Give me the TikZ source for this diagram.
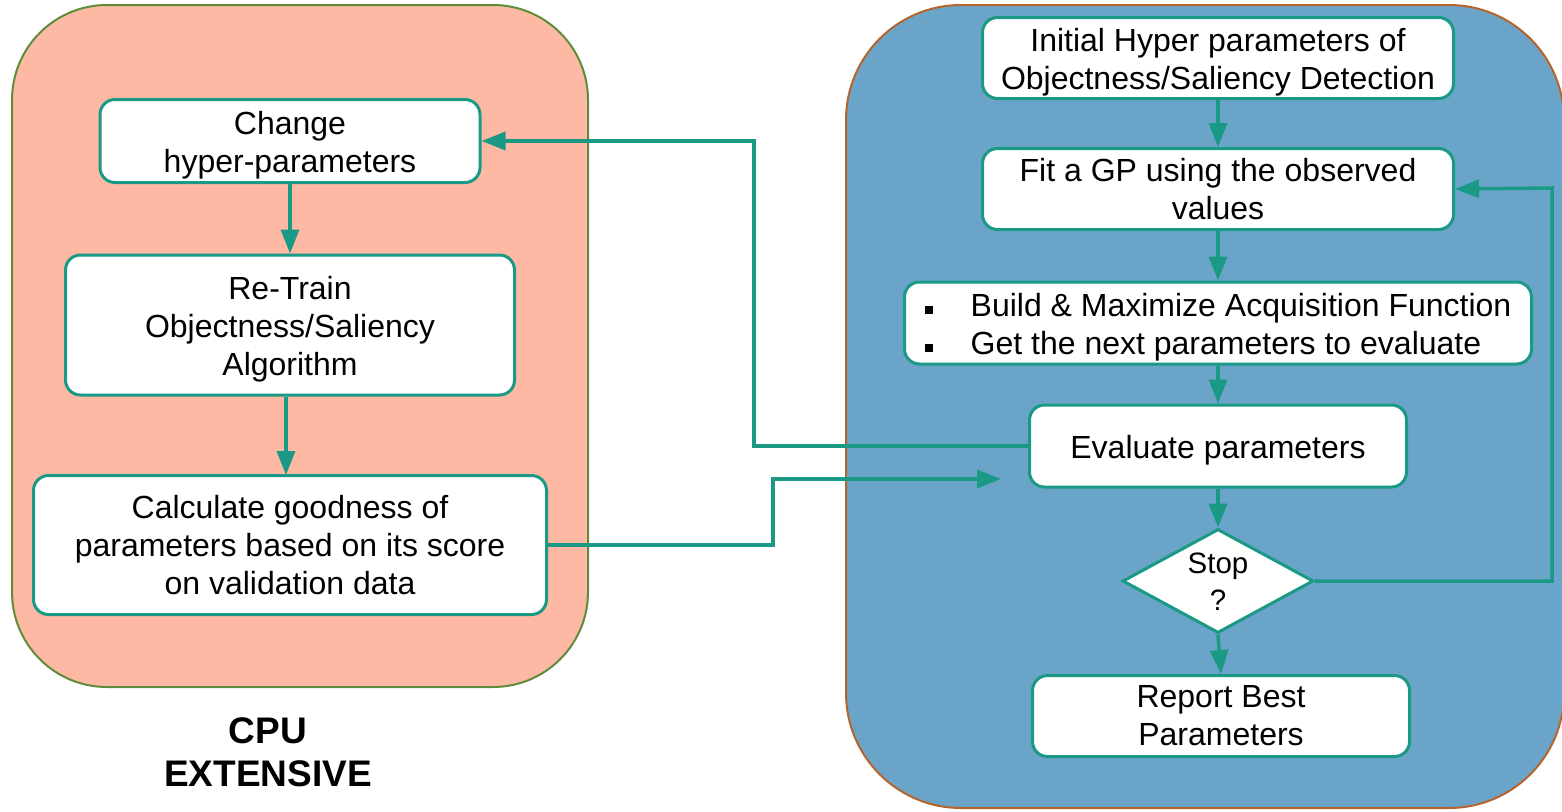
\documentclass[tikz,border=0pt]{standalone}
\usepackage{fontspec}
\setmainfont{Liberation Sans}
\usetikzlibrary{shapes.geometric,arrows.meta}
\definecolor{teal1}{HTML}{1A9985}
\definecolor{pinkfill}{HTML}{FDB9A3}
\definecolor{greenline}{HTML}{5E8C3A}
\definecolor{bluefill}{HTML}{6BA4C9}
\definecolor{brownline}{HTML}{B5652B}
\newcommand{\lowstrut}{\rule{0pt}{31pt}}
\begin{document}
\begin{tikzpicture}[x=1pt,y=-1pt,
  box/.style={draw=teal1, line width=3pt, fill=white, rounded corners=15pt, align=center, inner sep=0pt,
    font=\fontsize{32}{38}\selectfont},
  conn/.style={draw=teal1, line width=3.5pt, -{Triangle[length=24pt,width=18pt]}},
  plain/.style={draw=teal1, line width=3.5pt}
]
\useasboundingbox (0,0) rectangle (1562,811);
% containers
\draw[fill=pinkfill, draw=greenline, line width=2pt, rounded corners=95pt] (12,5) rectangle (588,687);
\draw[fill=bluefill, draw=brownline, line width=2pt, rounded corners=115pt] (846,5) rectangle (1564,808);

% left nodes
\node[box, minimum width=380pt, minimum height=83pt] (change) at (290,141) {\lowstrut Change\\hyper-parameters};
\node[box, minimum width=449pt, minimum height=140pt] (retrain) at (290,325) {\lowstrut Re-Train\\Objectness/Saliency\\Algorithm};
\node[box, minimum width=513pt, minimum height=139pt] (calc) at (290,545) {Calculate goodness of\\parameters based on its score\\on validation data};

% right nodes
\node[box, minimum width=471pt, minimum height=81pt] (init) at (1218,58) {\lowstrut Initial Hyper parameters of\\Objectness/Saliency Detection};
\node[box, minimum width=471pt, minimum height=81pt] (fit) at (1218,189) {Fit a GP using the observed\\values};
\node[box, minimum width=627pt, minimum height=82pt, align=left] (build) at (1218,323)
  {\lowstrut\makebox[46pt][l]{\rule[2pt]{8pt}{8pt}}Build \& Maximize Acquisition Function\\
   \makebox[46pt][l]{\rule[2pt]{8pt}{8pt}}Get the next parameters to evaluate};
\node[box, minimum width=377pt, minimum height=82pt] (eval) at (1218,446) {\lowstrut Evaluate parameters};
\node[diamond, draw=teal1, line width=3pt, fill=white, inner sep=0pt, minimum width=191pt, minimum height=104pt] (stop) at (1218,581) {};
\node[align=center, font=\fontsize{29.5}{37}\selectfont] (stoptext) at (1218,582) {Stop\\?};
\node[box, minimum width=377pt, minimum height=81pt] (report) at (1221,716) {Report Best\\Parameters};

\node[align=center, font=\fontsize{37}{43}\selectfont\bfseries] (cpu) at (268,752) {CPU\\EXTENSIVE};

% connectors
\draw[conn] (change) -- (change|-retrain.north);
\draw[conn] (retrain.south-|286,0) -- (286,475);
\draw[conn] (init) -- (fit);
\draw[conn] (fit) -- (build);
\draw[conn] (build) -- (eval);
\draw[conn] (eval) -- (stop.north);
\draw[conn] (stop.south) -- (report.north);

\draw[conn] (eval.west) -- (754,446) -- (754,141) -- (change.east);
\coordinate (evalin) at (1001,479);
\draw[conn] (calc.east) -- (773,545) -- (773,479) -- (evalin);
\draw[conn] (stop.east) -- (1552,581) -- (1552,188) -- (fit.east);
\end{tikzpicture}
\end{document}
